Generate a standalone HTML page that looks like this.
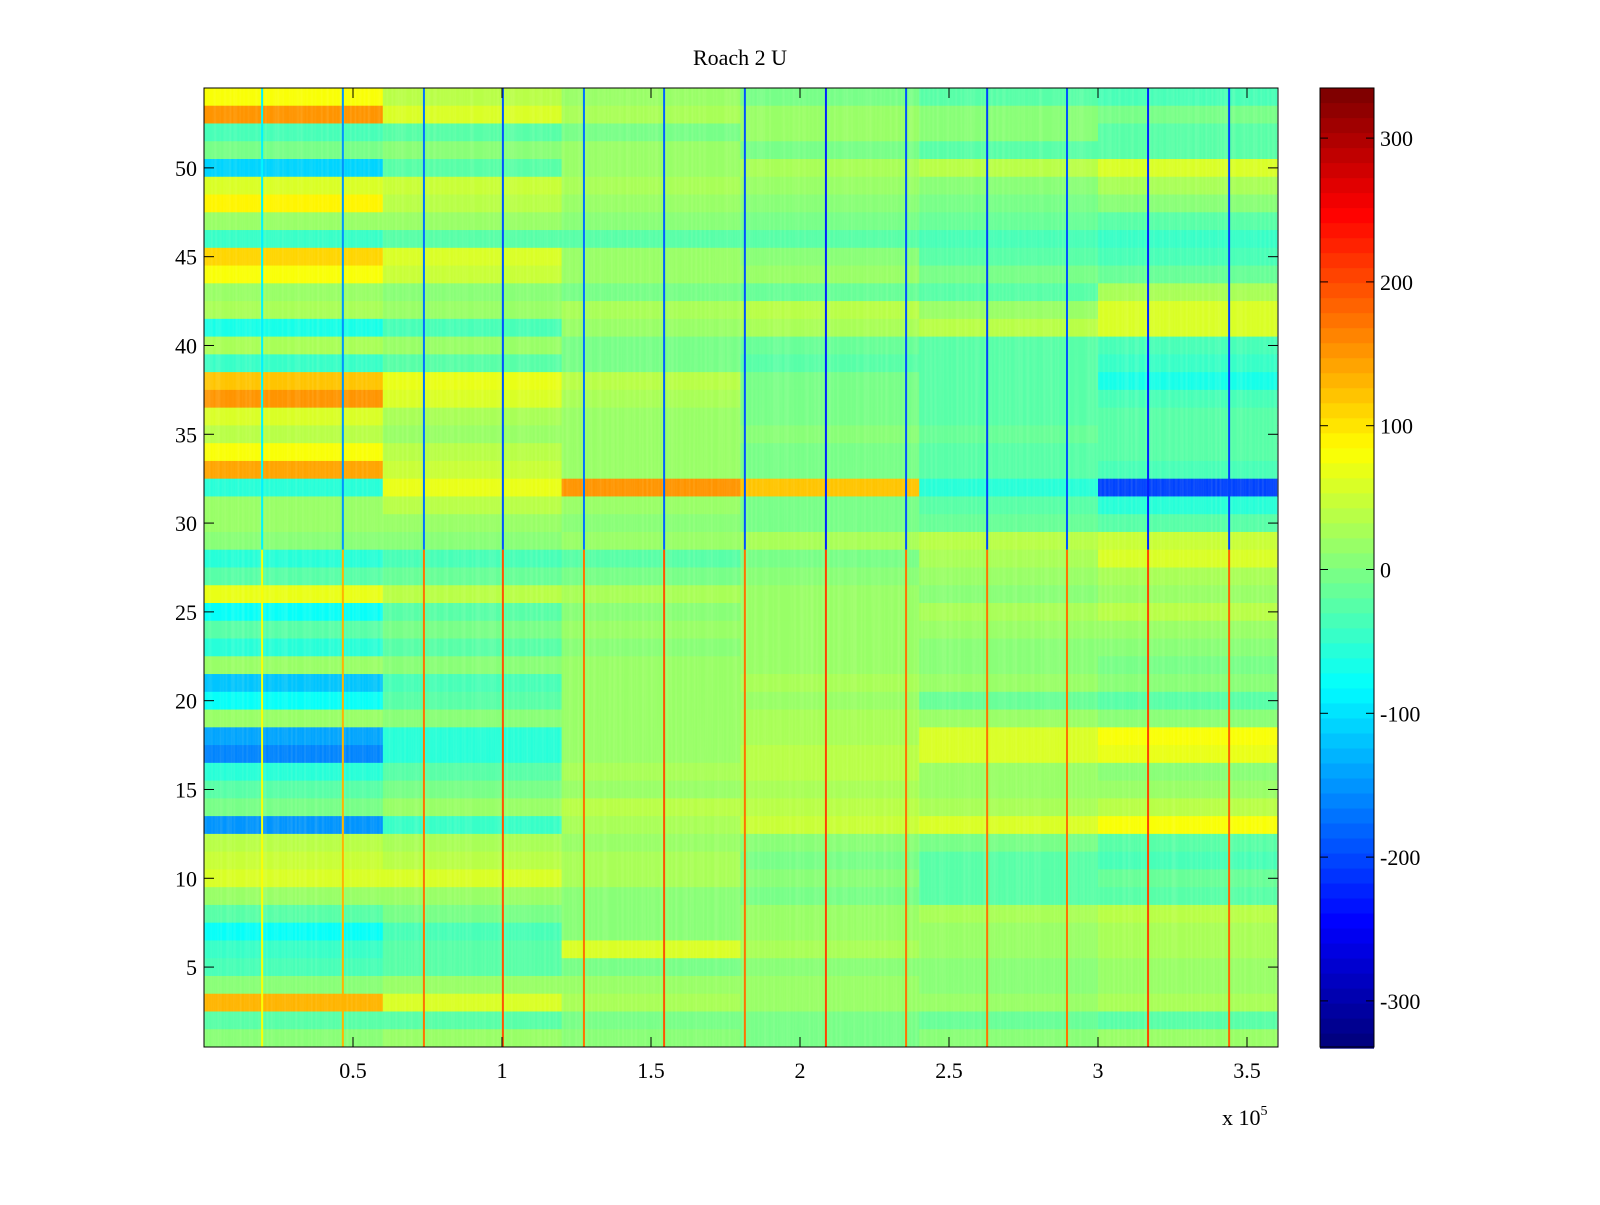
<!DOCTYPE html>
<html><head><meta charset="utf-8"><style>
body{margin:0;background:#fff;}
svg text{font-family:"Liberation Serif",serif;font-size:22px;fill:#000;}
</style></head><body>
<svg id="chart" width="1600" height="1200" xmlns="http://www.w3.org/2000/svg">
<defs>
<filter id="grain" x="0" y="0" width="100%" height="100%">
<feTurbulence type="fractalNoise" baseFrequency="0.45 0.004" numOctaves="1" seed="3"/>
<feColorMatrix type="matrix" values="0 0 0 0 1  0 0 0 0 1  0 0 0 0 0.6  0 0 0 0.9 -0.35"/>
</filter>
</defs>
<rect width="1600" height="1200" fill="#fff"/>
<g id="cells"></g>
<rect x="204" y="88" width="1074" height="959" filter="url(#grain)" opacity="0.35"/>
<g id="spikes"></g>
<g id="axes"></g>
<g id="cbar"></g>
<text x="740" y="65" text-anchor="middle">Roach 2 U</text>
<text x="1222" y="1125">x 10<tspan dy="-10" font-size="14">5</tspan></text>
</svg>
<script>
const segEdges = [0, 0.6, 1.2, 1.8, 2.4, 3.0, 3.6];
const rowValues = [
[80,40,20,0,-30,-40],[150,60,30,20,10,0],[-40,-20,0,20,10,-30],[0,10,20,0,-20,-30],
[-110,-30,20,30,40,60],[60,50,30,20,10,30],[90,40,20,10,0,10],[20,20,10,0,-10,-20],
[-50,-30,-20,-30,-40,-50],[110,60,20,10,-20,-40],[80,50,20,20,0,-10],[20,10,0,-10,-20,30],
[30,20,30,40,20,60],[-70,-40,20,30,40,60],[30,20,0,-10,-30,-40],[-50,-20,0,-20,-30,-50],
[120,70,40,0,-30,-70],[150,60,30,0,-20,-40],[60,30,20,0,-20,-30],[40,20,20,10,-10,-20],
[80,40,20,0,-20,-20],[140,50,20,0,-20,-40],[-60,70,150,120,-60,-200],[20,40,20,0,-20,-60],
[20,20,10,0,-10,-20],[10,10,20,30,40,50],[-60,-40,-20,0,30,60],[-20,-10,0,10,20,30],
[70,40,30,20,10,20],[-80,-30,10,20,30,40],[-30,0,20,20,20,20],[-60,-20,10,20,10,10],
[20,10,20,20,10,0],[-120,-40,20,30,20,10],[-80,-30,20,20,-10,-30],[20,10,20,30,20,10],
[-140,-60,20,30,60,80],[-160,-60,20,40,60,70],[-60,-20,30,40,20,10],[-20,0,20,30,20,20],
[0,20,40,40,30,40],[-150,-50,30,50,60,80],[40,30,20,10,0,-20],[50,40,30,0,-30,-40],
[60,60,30,10,-20,-10],[20,20,10,0,-20,-20],[-20,0,10,20,30,40],[-80,-40,10,20,20,30],
[-50,-20,60,30,20,30],[-40,-30,0,10,10,20],[10,20,20,20,10,20],[130,60,30,20,20,30],
[-30,-20,0,0,-10,-20],[10,20,10,0,10,20]
];
const spikeX = [0.195,0.466,0.738,1.003,1.275,1.544,1.815,2.087,2.356,2.628,2.896,3.168,3.44];
const spikeUpper = [-90,-150,-170,-190,-170,-180,-190,-220,-190,-200,-190,-220,-200];
const spikeLower = [80,130,170,190,170,190,170,200,170,170,170,200,180];
const xTicks = [0.5,1,1.5,2,2.5,3,3.5];
const yTicks = [5,10,15,20,25,30,35,40,45,50];
const cbTicks = [300,200,100,0,-100,-200,-300];

const X0=204, XS=298, YB=1047, YS=17.76, X1=1278, YT=88;
const VMIN=-333, VMAX=335;
const xs = v => X0 + v*XS;
const ys = v => YB - (v-0.5)*YS;
function jet(v){
  let t=(v-VMIN)/(VMAX-VMIN); t=Math.max(0,Math.min(1,t));
  t=Math.min(63,Math.floor(t*64))/63;
  const c=x=>Math.round(255*Math.max(0,Math.min(1,x)));
  return `rgb(${c(1.5-Math.abs(4*t-3))},${c(1.5-Math.abs(4*t-2))},${c(1.5-Math.abs(4*t-1))})`;
}
const NS='http://www.w3.org/2000/svg';
function mk(tag,attrs,parent){const e=document.createElementNS(NS,tag);for(const k in attrs)e.setAttribute(k,attrs[k]);parent.appendChild(e);return e;}
const cells=document.getElementById('cells');
rowValues.forEach((row,i)=>{
  const r=54-i;
  row.forEach((v,j)=>{
    const e=mk('rect',{x:xs(segEdges[j]),y:ys(r+0.5),width:xs(segEdges[j+1])-xs(segEdges[j])+0.5,height:YS+0.5,fill:jet(v)},cells);
    
    
  });
});
const sp=document.getElementById('spikes');
spikeX.forEach((sx,i)=>{
  const u=mk('rect',{x:xs(sx)-1,y:ys(54.5),width:2,height:ys(28.5)-ys(54.5),fill:jet(spikeUpper[i])},sp);
  
  
  const l=mk('rect',{x:xs(sx)-1,y:ys(28.5),width:2,height:ys(0.5)-ys(28.5),fill:jet(spikeLower[i])},sp);
  
  
});
const ax=document.getElementById('axes');
mk('rect',{x:X0,y:YT,width:X1-X0,height:YB-YT,fill:'none',stroke:'#000','stroke-width':1},ax);
xTicks.forEach(t=>{
  const x=xs(t);
  mk('line',{x1:x,x2:x,y1:YB,y2:YB-10,stroke:'#000'},ax);
  mk('line',{x1:x,x2:x,y1:YT,y2:YT+10,stroke:'#000'},ax);
  const tx=mk('text',{x:x,y:1078,'text-anchor':'middle'},ax);tx.textContent=t;
  
  
});
yTicks.forEach(t=>{
  const y=ys(t);
  mk('line',{x1:X0,x2:X0+10,y1:y,y2:y,stroke:'#000'},ax);
  mk('line',{x1:X1,x2:X1-10,y1:y,y2:y,stroke:'#000'},ax);
  const tx=mk('text',{x:197,y:y+8,'text-anchor':'end'},ax);tx.textContent=t;
  
  
});
const cb=document.getElementById('cbar');
const CX=1320,CW=54;
const cy=v=>569.5-v*1.438;
for(let k=0;k<64;k++){
  const v0=VMIN+(VMAX-VMIN)*k/64, v1=VMIN+(VMAX-VMIN)*(k+1)/64;
  const e=mk('rect',{x:CX,y:cy(v1)-0.3,width:CW,height:cy(v0)-cy(v1)+0.6,fill:jet((v0+v1)/2)},cb);
  
  
}
mk('rect',{x:CX,y:YT,width:CW,height:YB-YT,fill:'none',stroke:'#000'},cb);
cbTicks.forEach(t=>{
  const y=cy(t);
  mk('line',{x1:CX,x2:CX+8,y1:y,y2:y,stroke:'#000'},cb);
  mk('line',{x1:CX+CW,x2:CX+CW-8,y1:y,y2:y,stroke:'#000'},cb);
  const tx=mk('text',{x:1380,y:y+8},cb);tx.textContent=t;
  
  
});
</script>
</body></html>
